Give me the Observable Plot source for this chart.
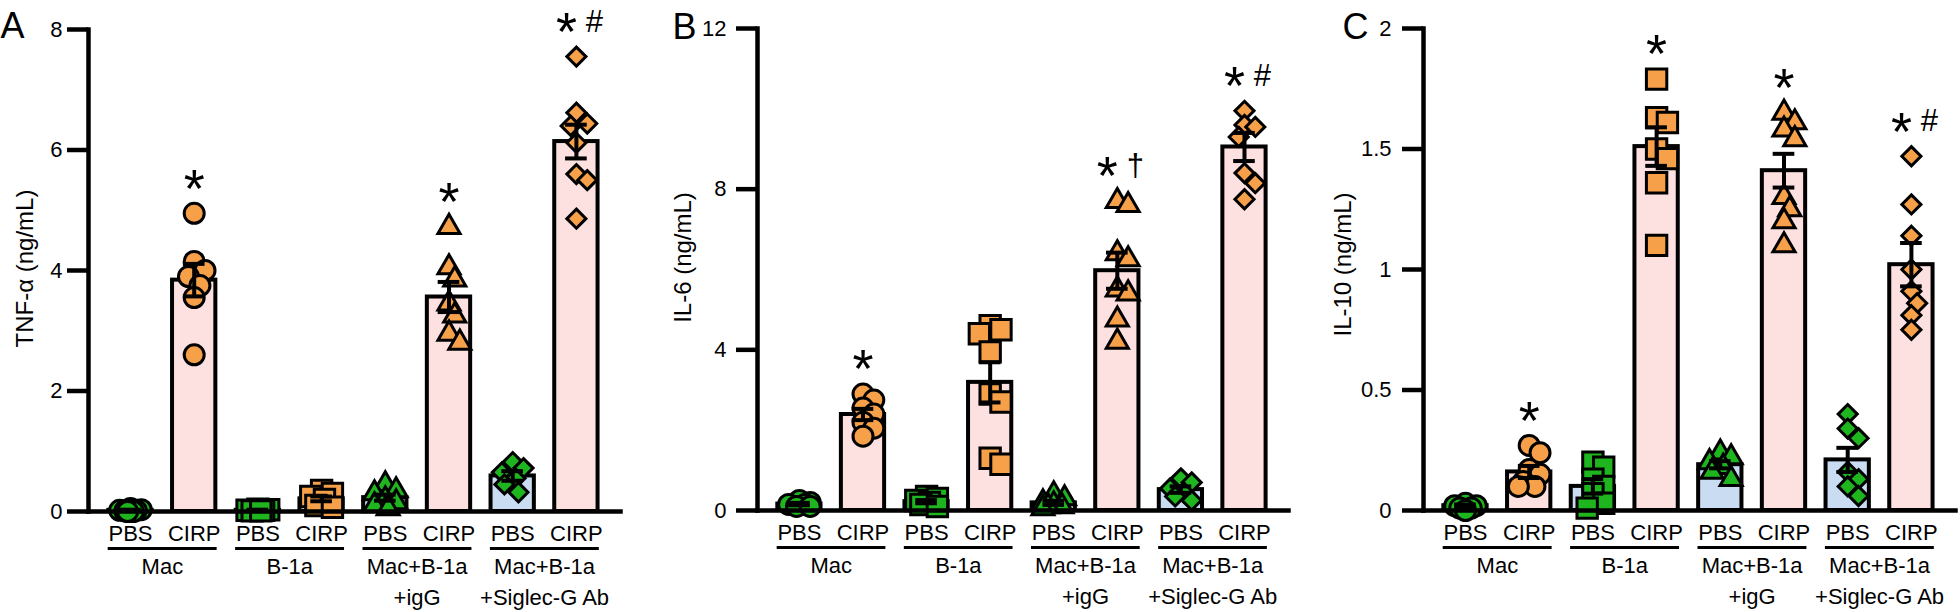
<!DOCTYPE html>
<html>
<head>
<meta charset="utf-8">
<script src="https://cdn.jsdelivr.net/npm/d3@7"></script>
<script src="https://cdn.jsdelivr.net/npm/@observablehq/plot@0.6"></script>
<style>
  body { margin: 0; background: #ffffff; }
  #chart { position: relative; width: 1960px; height: 612px; background: #ffffff; }
  #chart svg { position: absolute; top: 0; }
</style>
</head>
<body>
<div id="chart"></div>
<script>
// ---------- shared categories ----------
const groupLabels = ["Mac", "B-1a", "Mac+B-1a\n+igG", "Mac+B-1a\n+Siglec-G Ab"];
const treatments = ["PBS", "CIRP"];

// ---------- Panel A : TNF-α ----------
const tnfTicks = [0, 2, 4, 6, 8];
const tnfPoints = [
  [0.05, 0.03, 0.02, 0.02, 0.01, 0.0, 0.0],
  [4.95, 4.15, 4.0, 3.9, 3.75, 3.55, 2.6],
  [0.04, 0.03, 0.02, 0.02, 0.01, 0.01],
  [0.35, 0.3, 0.25, 0.2, 0.1, 0.07],
  [0.45, 0.35, 0.3, 0.2, 0.15, 0.1, 0.05],
  [4.72, 4.05, 3.85, 3.45, 3.25, 2.95, 2.8],
  [0.82, 0.72, 0.65, 0.55, 0.45, 0.32],
  [7.55, 6.62, 6.44, 6.4, 6.12, 5.6, 5.5, 4.86]
];
const tnfMean = [0.02, 3.84, 0.02, 0.21, 0.23, 3.56, 0.59, 6.14];
const tnfSem = [0.01, 0.27, 0.01, 0.04, 0.05, 0.25, 0.08, 0.28];
const tnfMarks = ["", "*", "", "", "", "*", "", "*#"];

// ---------- Panel B : IL-6 ----------
const il6Ticks = [0, 4, 8, 12];
const il6Points = [
  [0.25, 0.2, 0.15, 0.15, 0.1, 0.1],
  [2.9, 2.75, 2.55, 2.4, 2.2, 2.05, 1.85],
  [0.35, 0.3, 0.25, 0.2, 0.15, 0.1],
  [4.6, 4.5, 4.4, 3.95, 2.9, 2.7, 1.3, 1.15],
  [0.4, 0.3, 0.2, 0.15, 0.1, 0.1, 0.05],
  [7.7, 7.6, 6.4, 6.25, 5.5, 5.4, 4.75, 4.2],
  [0.8, 0.7, 0.55, 0.45, 0.35, 0.25],
  [9.95, 9.6, 9.55, 9.3, 8.4, 8.15, 7.75]
];
const il6Mean = [0.16, 2.39, 0.22, 3.19, 0.19, 5.97, 0.52, 9.05];
const il6Sem = [0.03, 0.14, 0.04, 0.5, 0.05, 0.45, 0.08, 0.35];
const il6Marks = ["", "*", "", "", "", "*†", "", "*#"];

// ---------- Panel C : IL-10 ----------
const il10Ticks = [0, 0.5, 1, 1.5, 2];
const il10Points = [
  [0.03, 0.02, 0.02, 0.01, 0.01, 0.0],
  [0.27, 0.24, 0.17, 0.15, 0.12, 0.1, 0.1],
  [0.2, 0.18, 0.13, 0.1, 0.07, 0.03, 0.01],
  [1.79, 1.63, 1.61, 1.5, 1.46, 1.36, 1.1],
  [0.24, 0.22, 0.2, 0.18, 0.16, 0.13],
  [1.65, 1.61, 1.58, 1.54, 1.3, 1.25, 1.2, 1.1],
  [0.4, 0.34, 0.3, 0.16, 0.13, 0.1, 0.06],
  [1.47, 1.27, 1.14, 1.0, 0.91, 0.86, 0.81, 0.75]
];
const il10Mean = [0.02, 0.16, 0.1, 1.51, 0.19, 1.41, 0.21, 1.02];
const il10Sem = [0.005, 0.025, 0.03, 0.08, 0.015, 0.07, 0.05, 0.09];
const il10Marks = ["", "*", "", "*", "", "*", "", "*#"];

// ---------- styling ----------
const FONT = "'Liberation Sans', Arial, sans-serif";
const PINK = "#fde0e0";
const BLUE = "#c9dcf2";
const GREEN = "#1fb51f";
const ORANGE = "#f7a04a";
const SHAPES = ["circle", "square", "triangle", "diamond2"];
const SHAPE_R = {circle: 10, square: 11.5, triangle: 8.2, diamond2: 8.6};
const STEP = 63.7;          // px per bar slot
const XDOM = [-42 / STEP, 490 / STEP];
const FRAME_H = 482;        // px from 0 to top tick

// deterministic horizontal dodge so overlapping points spread a little
function dodge(values, pxPerUnit) {
  const cand = [0, 0.09, -0.09, 0.17, -0.17, 0.045, -0.045, 0.13, -0.13];
  const placed = [];
  return values.map(v => {
    const py = v * pxPerUnit;
    let best = 0, bestD = -1;
    for (const c of cand) {
      const px = c * STEP;
      let d = Infinity;
      for (const p of placed) d = Math.min(d, Math.hypot(px - p.px, py - p.py));
      if (d >= 13) { best = c; bestD = d; break; }
      if (d > bestD) { bestD = d; best = c; }
    }
    placed.push({px: best * STEP, py});
    return best;
  });
}

function panel(cfg) {
  const {points, means, sems, marks, ticks, yLabel, letter} = cfg;
  const yMax = ticks[ticks.length - 1];
  const ppu = FRAME_H / yMax;
  const bars = means.map((m, i) => ({
    i, mean: m, sem: sems[i], t: treatments[i % 2], g: Math.floor(i / 2)
  }));
  const dots = [];
  points.forEach((vals, i) => {
    const off = dodge(vals, ppu);
    vals.forEach((v, k) => dots.push({i, x: i + off[k], v, t: treatments[i % 2], shape: SHAPES[Math.floor(i / 2)]}));
  });
  const caps = [];
  bars.forEach(b => {
    caps.push({i: b.i, y: b.mean + b.sem});
    caps.push({i: b.i, y: Math.max(0, b.mean - b.sem)});
  });
  const ann = [];
  marks.forEach((m, i) => {
    if (!m) return;
    const top = d3.max(points[i]) + 38 / ppu;
    ann.push({i, star: m[0], suffix: m.slice(1), y: top});
  });
  const groups = groupLabels.map((label, g) => ({g, label}));
  const tickLabels = bars.map(b => ({i: b.i, text: b.t}));

  const dotMarks = [];
  for (const shape of SHAPES) {
    for (const t of treatments) {
      dotMarks.push(Plot.dot(dots.filter(d => d.shape === shape && d.t === t), {
        x: "x", y: "v", symbol: shape, r: SHAPE_R[shape],
        fill: t === "PBS" ? GREEN : ORANGE, stroke: "black", strokeWidth: 3
      }));
    }
  }

  return Plot.plot({
    width: cfg.width, height: 612,
    marginLeft: cfg.ml, marginRight: cfg.mr, marginTop: cfg.mt, marginBottom: 612 - cfg.mt - FRAME_H,
    x: {domain: XDOM, axis: null},
    y: {domain: [0, yMax], axis: null},
    style: {fontFamily: FONT, fontSize: "22px", background: "white", overflow: "visible", left: cfg.left + "px"},
    marks: [
      Plot.rect(bars.filter(b => b.t === "PBS"), {x1: d => d.i - 0.34, x2: d => d.i + 0.34, y1: d => 0, y2: "mean", fill: BLUE, stroke: "black", strokeWidth: 4}),
      Plot.rect(bars.filter(b => b.t === "CIRP"), {x1: d => d.i - 0.34, x2: d => d.i + 0.34, y1: d => 0, y2: "mean", fill: PINK, stroke: "black", strokeWidth: 4}),
      ...dotMarks,
      Plot.ruleX(bars, {x: "i", y1: d => Math.max(0, d.mean - d.sem), y2: d => d.mean + d.sem, strokeWidth: 4}),
      Plot.ruleY(caps, {y: "y", x1: d => d.i - 0.17, x2: d => d.i + 0.17, strokeWidth: 4}),
      Plot.frame({anchor: "left", strokeWidth: 4.5}),
      Plot.frame({anchor: "bottom", strokeWidth: 4.5}),
      Plot.axisY({ticks, tickSize: 21, tickPadding: cfg.pad, strokeWidth: 4.5, fontSize: 22, label: null, tickFormat: d => String(d)}),
      // x category labels
      Plot.text(tickLabels, {x: "i", y: d => 0, text: "text", dy: 22, lineAnchor: "middle", fontSize: 22}),
      Plot.ruleY(groups, {y: d => 0, x1: d => 2 * d.g - 0.35, x2: d => 2 * d.g + 1.36, dy: 37, strokeWidth: 3}),
      Plot.text(groups, {x: d => 2 * d.g + 0.5, y: d => 0, text: "label", dy: 41, lineAnchor: "top", lineHeight: 1.4, fontSize: 22}),
      // significance marks
      Plot.text(ann.filter(a => !a.suffix), {x: "i", y: "y", text: "star", fontSize: 54, lineAnchor: "middle", dy: 14}),
      Plot.text(ann.filter(a => a.suffix), {x: "i", y: "y", text: "star", fontSize: 54, lineAnchor: "middle", dy: 14, dx: -10}),
      Plot.text(ann.filter(a => a.suffix), {x: "i", y: "y", text: "suffix", fontSize: 31, lineAnchor: "middle", dx: 18, dy: 3}),
      // y axis title
      Plot.text([yLabel], {frameAnchor: "left", text: d => d, rotate: -90, dx: cfg.labelDx, dy: cfg.labelDy, textAnchor: "middle", lineAnchor: "bottom", fontSize: 24}),
      // panel letter
      Plot.text([letter], {frameAnchor: "top-left", text: d => d, dx: cfg.letterDx, dy: cfg.letterDy, textAnchor: "start", lineAnchor: "top", fontSize: 36})
    ]
  });
}

const chart = document.getElementById("chart");
chart.appendChild(panel({
  points: tnfPoints, means: tnfMean, sems: tnfSem, marks: tnfMarks, ticks: tnfTicks,
  yLabel: "TNF-α (ng/mL)", letter: "A",
  left: 0, width: 640, ml: 88, mr: 20, mt: 29, pad: 5,
  labelDx: -56, labelDy: -2, letterDx: -88, letterDy: -17
}));
chart.appendChild(panel({
  points: il6Points, means: il6Mean, sems: il6Sem, marks: il6Marks, ticks: il6Ticks,
  yLabel: "IL-6 (ng/mL)", letter: "B",
  left: 640, width: 660, ml: 117, mr: 12, mt: 28, pad: 10,
  labelDx: -67, labelDy: -12, letterDx: -85, letterDy: -15
}));
chart.appendChild(panel({
  points: il10Points, means: il10Mean, sems: il10Sem, marks: il10Marks, ticks: il10Ticks,
  yLabel: "IL-10 (ng/mL)", letter: "C",
  left: 1300, width: 660, ml: 123, mr: 5, mt: 28, pad: 11,
  labelDx: -73, labelDy: -5, letterDx: -81, letterDy: -15
}));
</script>
</body>
</html>
